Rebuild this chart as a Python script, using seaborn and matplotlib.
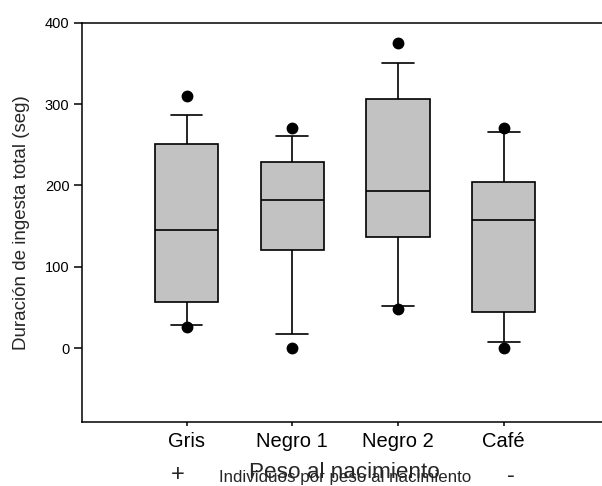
import numpy as np
import pandas as pd
import matplotlib
matplotlib.use("Agg")
import matplotlib.pyplot as plt
import seaborn as sns

# ---- data ----
categories = ["Gris", "Negro 1", "Negro 2", "Café"]
outlier_low = [26, 0, 48, 0]
whisker_low = [29, 17, 52, 8]
q1 = [57, 121, 137, 44]
median = [145, 182, 193, 157]
q3 = [251, 229, 306, 204]
whisker_high = [287, 261, 351, 266]
outlier_high = [310, 271, 375, 271]
y_ticks = [0, 100, 200, 300, 400]

# Build 9 observations per group so that the 25/50/75 percentiles are q1/median/q3
# and the 12.5/87.5 percentiles are the whisker ends; the extremes become fliers.
rows = []
for i, cat in enumerate(categories):
    vals = [outlier_low[i], whisker_low[i], q1[i], q1[i], median[i],
            q3[i], q3[i], whisker_high[i], outlier_high[i]]
    for v in vals:
        rows.append({"grupo": cat, "valor": v})
df = pd.DataFrame(rows)

sns.set_style("ticks")
plt.rcParams["font.family"] = ["Liberation Sans", "DejaVu Sans"]

fig = plt.figure(figsize=(6.02, 4.86), dpi=100)
ax = fig.add_axes([82 / 602, 1 - 422.3 / 486, 1 - 82 / 602, (422.3 - 22.7) / 486])

sns.boxplot(data=df, x="grupo", y="valor", order=categories,
            whis=(12.5, 87.5), width=0.6, color="#c2c2c2", saturation=1,
            linecolor="black", linewidth=1.2, fliersize=7.5,
            flierprops=dict(marker="o", markerfacecolor="black",
                            markeredgecolor="black"),
            ax=ax)

ax.set_xlim(-0.99, 3.93)
ax.set_ylim(-91, 400)
ax.set_yticks(y_ticks)
ax.set_xlabel("")
ax.set_ylabel("")

for s in ["left", "bottom", "top"]:
    ax.spines[s].set_visible(True)
    ax.spines[s].set_linewidth(1.1)
    ax.spines[s].set_color("black")
ax.spines["right"].set_visible(False)

ax.tick_params(axis="y", direction="out", length=6, width=1.1, labelsize=10.5,
               pad=3, colors="black")
ax.tick_params(axis="x", direction="out", length=3, width=1.1, labelsize=14.5,
               pad=4, colors="black")

# axis titles and extra texts (the two bottom titles overlap, as in the reference)
fig.text(22 / 602, 1 - 222.5 / 486, "Duración de ingesta total (seg)",
         rotation=90, ha="center", va="center", fontsize=13.5)
fig.text(344.5 / 602, 1 - 478.3 / 486, "Peso al nacimiento",
         ha="center", va="baseline", fontsize=16.2)
fig.text(345.5 / 602, 1 - 482.3 / 486, "Individuos por peso al nacimiento",
         ha="center", va="baseline", fontsize=12.2)
fig.text(177.5 / 602, 1 - 475 / 486, "+", ha="center", va="center", fontsize=17)
fig.text(511 / 602, 1 - 476 / 486, "-", ha="center", va="center", fontsize=17)

fig.savefig("out.png", dpi=100)
